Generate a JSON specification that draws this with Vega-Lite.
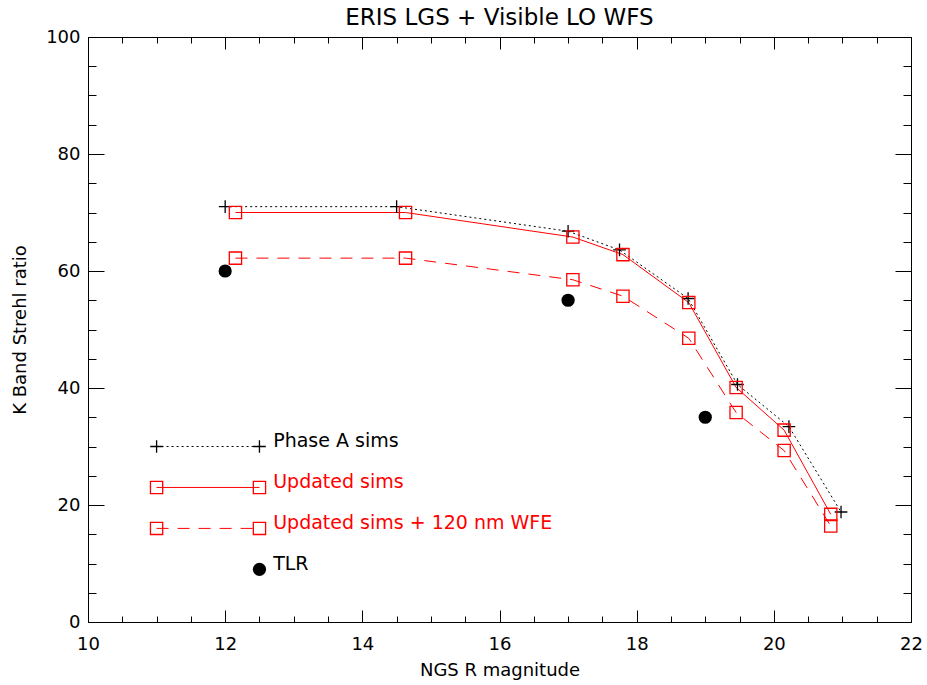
{
  "$schema": "https://vega.github.io/schema/vega-lite/v6.json",
  "width": 823,
  "height": 585,
  "autosize": {"type": "none"},
  "padding": {"left": 88, "top": 37, "right": 16, "bottom": 63},
  "background": "white",
  "config": {
    "view": {"stroke": null},
    "font": "DejaVu Sans",
    "axis": {"grid": false, "domainColor": "black", "tickColor": "black", "labelColor": "black", "titleColor": "black", "labelFont": "DejaVu Sans", "titleFont": "DejaVu Sans", "labelFontSize": 18, "titleFontSize": 18, "titleFontWeight": "normal", "domainWidth": 1, "tickWidth": 1}
  },
  "title": {"text": "ERIS LGS + Visible LO WFS", "fontSize": 23, "fontWeight": "normal", "font": "DejaVu Sans", "color": "black", "offset": -2},
  "datasets": {
    "pts": [
      {"series": "Phase A sims", "group": "data", "x": 12, "y": 71},
      {"series": "Phase A sims", "group": "data", "x": 14.5, "y": 71},
      {"series": "Phase A sims", "group": "data", "x": 17, "y": 66.8},
      {"series": "Phase A sims", "group": "data", "x": 17.75, "y": 63.6},
      {"series": "Phase A sims", "group": "data", "x": 18.75, "y": 55.3},
      {"series": "Phase A sims", "group": "data", "x": 19.47, "y": 40.6},
      {"series": "Phase A sims", "group": "data", "x": 20.22, "y": 33.4},
      {"series": "Phase A sims", "group": "data", "x": 20.98, "y": 18.8},
      {"series": "Updated sims", "group": "data", "x": 12.15, "y": 70},
      {"series": "Updated sims", "group": "data", "x": 14.63, "y": 70},
      {"series": "Updated sims", "group": "data", "x": 17.07, "y": 65.8},
      {"series": "Updated sims", "group": "data", "x": 17.8, "y": 62.8},
      {"series": "Updated sims", "group": "data", "x": 18.76, "y": 54.6},
      {"series": "Updated sims", "group": "data", "x": 19.45, "y": 40.1},
      {"series": "Updated sims", "group": "data", "x": 20.15, "y": 32.8},
      {"series": "Updated sims", "group": "data", "x": 20.83, "y": 18.4},
      {"series": "Updated sims + 120 nm WFE", "group": "data", "x": 12.15, "y": 62.2},
      {"series": "Updated sims + 120 nm WFE", "group": "data", "x": 14.63, "y": 62.2},
      {"series": "Updated sims + 120 nm WFE", "group": "data", "x": 17.07, "y": 58.5},
      {"series": "Updated sims + 120 nm WFE", "group": "data", "x": 17.8, "y": 55.7},
      {"series": "Updated sims + 120 nm WFE", "group": "data", "x": 18.76, "y": 48.5},
      {"series": "Updated sims + 120 nm WFE", "group": "data", "x": 19.45, "y": 35.8},
      {"series": "Updated sims + 120 nm WFE", "group": "data", "x": 20.15, "y": 29.3},
      {"series": "Updated sims + 120 nm WFE", "group": "data", "x": 20.83, "y": 16.4},
      {"series": "TLR", "group": "data", "x": 12, "y": 60},
      {"series": "TLR", "group": "data", "x": 17, "y": 55},
      {"series": "TLR", "group": "data", "x": 19, "y": 35},
      {"series": "Phase A sims", "group": "legend", "x": 11, "y": 30},
      {"series": "Phase A sims", "group": "legend", "x": 12.5, "y": 30},
      {"series": "Updated sims", "group": "legend", "x": 11, "y": 23},
      {"series": "Updated sims", "group": "legend", "x": 12.5, "y": 23},
      {"series": "Updated sims + 120 nm WFE", "group": "legend", "x": 11, "y": 16},
      {"series": "Updated sims + 120 nm WFE", "group": "legend", "x": 12.5, "y": 16},
      {"series": "TLR", "group": "legend", "x": 12.5, "y": 9}
    ],
    "labels": [
      {"series": "Phase A sims", "x": 12.7, "y": 31},
      {"series": "Updated sims", "x": 12.7, "y": 24},
      {"series": "Updated sims + 120 nm WFE", "x": 12.7, "y": 17},
      {"series": "TLR", "x": 12.7, "y": 10}
    ]
  },
  "resolve": {"axis": {"x": "independent", "y": "independent"}},
  "layer": [
    {
      "data": {"name": "pts"},
      "transform": [{"filter": "datum.series === 'Phase A sims'"}],
      "mark": {"type": "line", "color": "black", "strokeWidth": 1, "strokeDash": [2, 3]},
      "encoding": {
        "x": {"field": "x", "type": "quantitative", "scale": {"domain": [10, 22], "nice": false, "zero": false},
              "axis": {"orient": "bottom", "title": "NGS R magnitude", "values": [10, 12, 14, 16, 18, 20, 22], "tickSize": -12, "labelPadding": 25, "titlePadding": 8, "labelFlush": false}},
        "y": {"field": "y", "type": "quantitative", "scale": {"domain": [0, 100], "nice": false},
              "axis": {"orient": "left", "title": "K Band Strehl ratio", "values": [0, 20, 40, 60, 80, 100], "tickSize": -16, "labelPadding": 24, "titlePadding": 16, "labelFlush": false}},
        "detail": {"field": "group"}
      }
    },
    {
      "data": {"name": "pts"},
      "transform": [{"filter": "datum.series === 'Updated sims'"}],
      "mark": {"type": "line", "color": "#ff0000", "strokeWidth": 1},
      "encoding": {
        "x": {"field": "x", "type": "quantitative", "scale": {"domain": [10, 22], "nice": false, "zero": false},
              "axis": {"orient": "bottom", "title": null, "labels": false, "domain": false, "values": [10.5, 11, 11.5, 12.5, 13, 13.5, 14.5, 15, 15.5, 16.5, 17, 17.5, 18.5, 19, 19.5, 20.5, 21, 21.5], "tickSize": -6}},
        "y": {"field": "y", "type": "quantitative", "scale": {"domain": [0, 100], "nice": false},
              "axis": {"orient": "left", "title": null, "labels": false, "domain": false, "values": [5, 10, 15, 25, 30, 35, 45, 50, 55, 65, 70, 75, 85, 90, 95], "tickSize": -8}},
        "detail": {"field": "group"}
      }
    },
    {
      "data": {"name": "pts"},
      "transform": [{"filter": "datum.series === 'Updated sims + 120 nm WFE'"}],
      "mark": {"type": "line", "color": "#ff0000", "strokeWidth": 1, "strokeDash": [12, 9]},
      "encoding": {
        "x": {"field": "x", "type": "quantitative", "scale": {"domain": [10, 22], "nice": false, "zero": false},
              "axis": {"orient": "top", "title": null, "labels": false, "values": [10, 12, 14, 16, 18, 20, 22], "tickSize": -12}},
        "y": {"field": "y", "type": "quantitative", "scale": {"domain": [0, 100], "nice": false},
              "axis": {"orient": "right", "title": null, "labels": false, "values": [0, 20, 40, 60, 80, 100], "tickSize": -16}},
        "detail": {"field": "group"}
      }
    },
    {
      "data": {"name": "pts"},
      "transform": [{"filter": "datum.series === 'TLR'"}],
      "mark": {"type": "point", "shape": "circle", "filled": true, "color": "black", "size": 175, "opacity": 1},
      "encoding": {
        "x": {"field": "x", "type": "quantitative", "scale": {"domain": [10, 22], "nice": false, "zero": false},
              "axis": {"orient": "top", "title": null, "labels": false, "domain": false, "values": [10.5, 11, 11.5, 12.5, 13, 13.5, 14.5, 15, 15.5, 16.5, 17, 17.5, 18.5, 19, 19.5, 20.5, 21, 21.5], "tickSize": -6}},
        "y": {"field": "y", "type": "quantitative", "scale": {"domain": [0, 100], "nice": false},
              "axis": {"orient": "right", "title": null, "labels": false, "domain": false, "values": [5, 10, 15, 25, 30, 35, 45, 50, 55, 65, 70, 75, 85, 90, 95], "tickSize": -8}}
      }
    },
    {
      "data": {"name": "pts"},
      "transform": [{"filter": "datum.series === 'Phase A sims'"}],
      "mark": {"type": "point", "shape": "M-1,0L1,0M0,-1L0,1", "filled": false, "color": "black", "size": 160, "strokeWidth": 1.3, "opacity": 1},
      "encoding": {
        "x": {"field": "x", "type": "quantitative", "axis": null},
        "y": {"field": "y", "type": "quantitative", "axis": null}
      }
    },
    {
      "data": {"name": "pts"},
      "transform": [{"filter": "datum.series === 'Updated sims' || datum.series === 'Updated sims + 120 nm WFE'"}],
      "mark": {"type": "point", "shape": "square", "filled": false, "color": "#ff0000", "size": 150, "strokeWidth": 1.3, "opacity": 1},
      "encoding": {
        "x": {"field": "x", "type": "quantitative", "axis": null},
        "y": {"field": "y", "type": "quantitative", "axis": null}
      }
    },
    {
      "data": {"name": "labels"},
      "mark": {"type": "text", "align": "left", "baseline": "middle", "fontSize": 19, "font": "DejaVu Sans"},
      "encoding": {
        "x": {"field": "x", "type": "quantitative", "axis": null},
        "y": {"field": "y", "type": "quantitative", "axis": null},
        "text": {"field": "series"},
        "color": {"field": "series", "type": "nominal", "legend": null,
                  "scale": {"domain": ["Phase A sims", "Updated sims", "Updated sims + 120 nm WFE", "TLR"], "range": ["black", "#ff0000", "#ff0000", "black"]}}
      }
    }
  ]
}
